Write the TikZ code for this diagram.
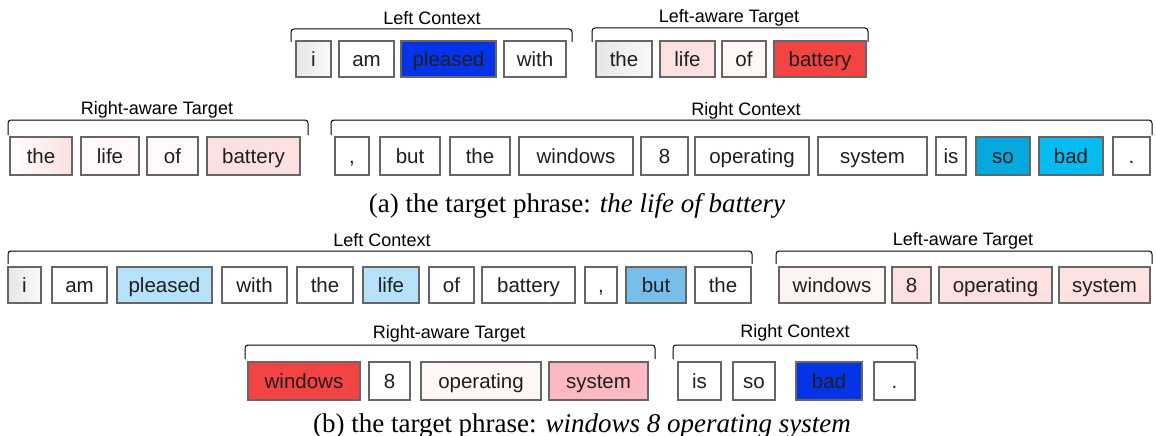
\documentclass[tikz,border=0pt]{standalone}
\usepackage{fontspec}
\setmainfont{Liberation Serif}
\setsansfont{Liberation Sans}
\begin{document}
\begin{tikzpicture}[x=1pt,y=-1pt,
  wbox/.style={draw=black!60, line width=1.3pt, inner sep=0pt, font=\sffamily\fontsize{20.5}{24}\selectfont, text=black!88, anchor=center, text height=14.6pt, text depth=0pt},
  grp/.style={font=\sffamily\fontsize{18}{21}\selectfont, inner sep=0pt, anchor=base},
  brk/.style={line width=1pt, rounded corners=3pt},
  captext/.style={font=\rmfamily\fontsize{27}{30}\selectfont, inner sep=0pt, anchor=base}]
\definecolor{cblue}{HTML}{0433E8}
\definecolor{cred}{HTML}{F44343}
\definecolor{cpink}{HTML}{FDE0E0}
\definecolor{cpale}{HTML}{FFF6F6}
\definecolor{ccyan}{HTML}{04A9DE}
\definecolor{ccyanb}{HTML}{06BBF1}
\definecolor{clb}{HTML}{B5E2FA}
\definecolor{cmb}{HTML}{79BDEB}
\definecolor{crose}{HTML}{FDB9C1}
\definecolor{cgl}{HTML}{E6E6E6}
\definecolor{cgr}{HTML}{FAFAFA}
\useasboundingbox (0,0) rectangle (1156,436);
\fill[white] (0,0) rectangle (1156,436);
\newcommand\wb[7]{\node[wbox, #6, minimum width={#3pt-#2pt}, minimum height={#5pt-#4pt}] (#1) at ({(#2+#3)/2},{(#4+#5)/2}) {#7};}
\newcommand\brak[4]{\draw[brk] (#1,#4) -- (#1,#3) -- (#2,#3) -- (#2,#4);}
% ---------- row 1 ----------
\wb{ai}{296}{331}{41}{77}{left color=cgl,right color=cgr}{i}
\wb{aam}{339}{394}{41}{77}{fill=white}{am}
\wb{aple}{401}{496}{41}{77}{fill=cblue}{pleased}
\wb{awith}{504}{566}{41}{77}{fill=white}{with}
\wb{athe}{596}{652}{41}{77}{left color=cgl,right color=cgr}{the}
\wb{alife}{660}{715}{41}{77}{fill=cpink}{life}
\wb{aof}{722}{766}{41}{77}{fill=cpale}{of}
\wb{abat}{774}{866}{41}{77}{fill=cred}{battery}
\brak{291}{572}{29}{42}
\node[grp] (lc1) at (432,25) {Left Context};
\brak{592}{868}{28}{42}
\node[grp] (lt1) at (729,23) {Left-aware Target};
% ---------- row 2 ----------
\wb{bthe}{10}{72}{137}{175}{left color=cpink!130!red!20,right color=cpink}{the}
\wb{blife}{81}{139}{137}{175}{fill=cpale!70!white}{life}
\wb{bof}{147}{198}{137}{175}{fill=cpink!90!red!10}{of}
\wb{bbat}{207}{300}{137}{175}{fill=cpink}{battery}
\brak{8}{308}{120}{135}
\node[grp] (rt1) at (157,114) {Right-aware Target};
\wb{bcom}{335}{369}{137}{175}{fill=white}{,}
\wb{bbut}{380}{440}{137}{175}{fill=white}{but}
\wb{bthe2}{450}{510}{137}{175}{fill=white}{the}
\wb{bwin}{519}{633}{137}{175}{fill=white}{windows}
\wb{beight}{641}{688}{137}{175}{fill=white}{8}
\wb{bop}{695}{809}{137}{175}{fill=white}{operating}
\wb{bsys}{818}{927}{137}{175}{fill=white}{system}
\wb{bis}{936}{966}{137}{175}{fill=white}{is}
\wb{bso}{976}{1030}{137}{175}{fill=ccyan}{so}
\wb{bbad}{1039}{1103}{137}{175}{fill=ccyanb}{bad}
\wb{bdot}{1113}{1150}{137}{175}{fill=white}{.}
\brak{331}{1152}{120}{135}
\node[grp] (rc1) at (746,115) {Right Context};
\node[captext] (capa) at (577,212) {(a) the target phrase: \textit{the life of battery}};
% ---------- row 3 ----------
\wb{ci}{8}{41}{267}{303}{left color=cgl,right color=cgr}{i}
\wb{cam}{52}{107}{267}{303}{fill=white}{am}
\wb{cple}{117}{212}{267}{303}{fill=clb}{pleased}
\wb{cwith}{222}{287}{267}{303}{fill=white}{with}
\wb{cthe}{297}{353}{267}{303}{fill=white}{the}
\wb{clife}{363}{419}{267}{303}{fill=clb}{life}
\wb{cof}{429}{474}{267}{303}{fill=white}{of}
\wb{cbat}{482}{575}{267}{303}{fill=white}{battery}
\wb{ccom}{585}{617}{267}{303}{fill=white}{,}
\wb{cbut}{626}{686}{267}{303}{fill=cmb}{but}
\wb{cthe2}{695}{751}{267}{303}{fill=white}{the}
\brak{8}{752}{251}{264}
\node[grp] (lc2) at (382,246) {Left Context};
\wb{cwin}{779}{885}{267}{303}{left color=cpink!40!white,right color=cpale}{windows}
\wb{ceight}{892}{931}{267}{303}{fill=cpink}{8}
\wb{cop}{939}{1052}{267}{303}{fill=cpink}{operating}
\wb{csys}{1059}{1150}{267}{303}{fill=cpink}{system}
\brak{776}{1152}{251}{264}
\node[grp] (lt2) at (963,245) {Left-aware Target};
% ---------- row 4 ----------
\wb{dwin}{248}{360}{362}{400}{fill=cred}{windows}
\wb{deight}{369}{410}{362}{400}{fill=white}{8}
\wb{dop}{421}{541}{362}{400}{fill=cpale}{operating}
\wb{dsys}{549}{648}{362}{400}{fill=crose}{system}
\brak{245}{655}{345}{359}
\node[grp] (rt2) at (449,338) {Right-aware Target};
\wb{dis}{678}{721}{362}{400}{fill=white}{is}
\wb{dso}{733}{775}{362}{400}{fill=white}{so}
\wb{dbad}{796}{862}{362}{400}{fill=cblue}{bad}
\wb{ddot}{874}{915}{362}{400}{fill=white}{.}
\brak{673}{917}{345}{359}
\node[grp] (rc2) at (795,337) {Right Context};
\node[captext] (capb) at (582,432) {(b) the target phrase: \textit{windows 8 operating system}};
\end{tikzpicture}
\end{document}
